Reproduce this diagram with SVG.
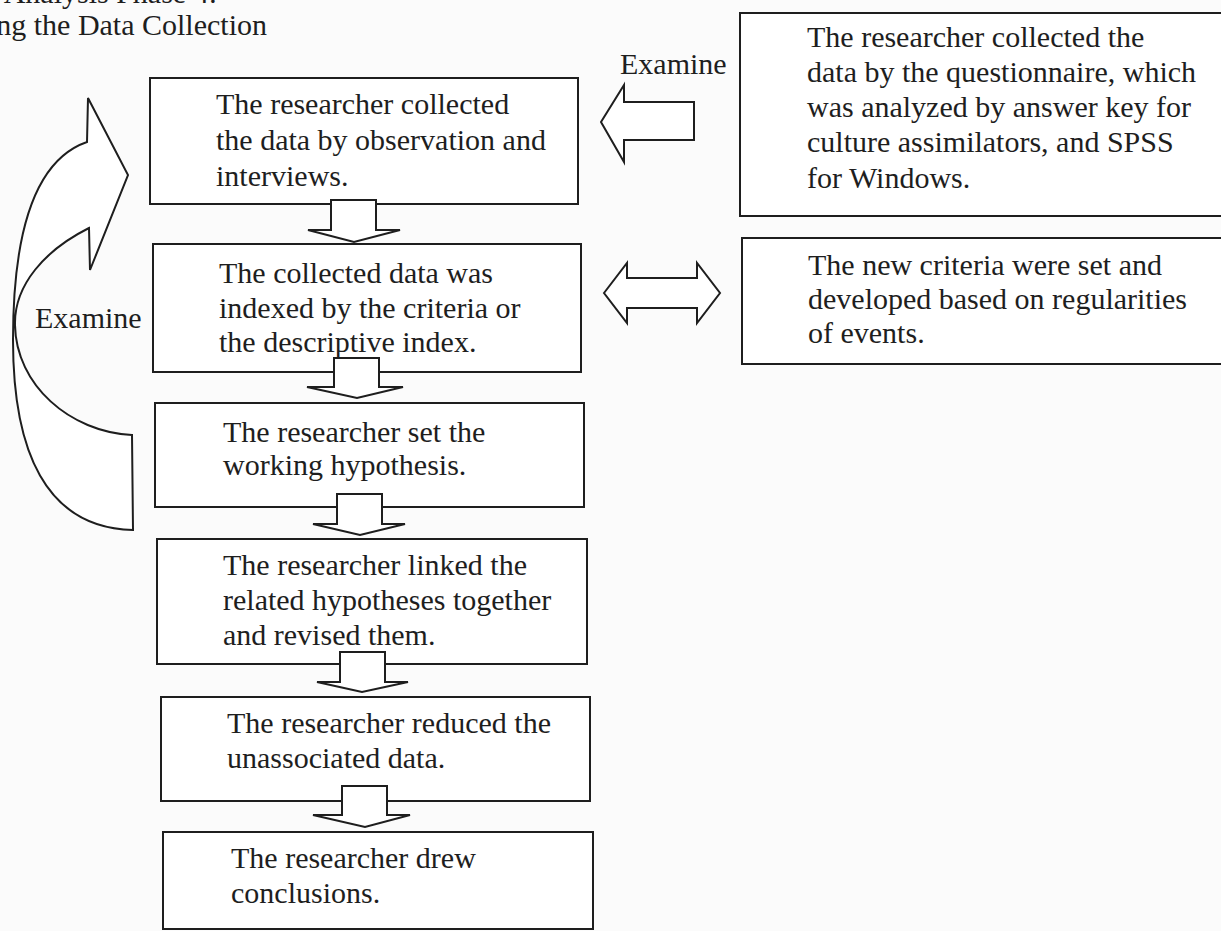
<svg xmlns="http://www.w3.org/2000/svg" width="1221" height="931" viewBox="0 0 1221 931">
<style>
.box{fill:#fff;stroke:#1e1e1e;stroke-width:2}
.t{font-family:"Liberation Serif","Times New Roman",serif;font-size:30px;fill:#1e1e1e}
.arr{fill:#fff;stroke:#1e1e1e;stroke-width:2;stroke-linejoin:miter}
</style>
<rect x="0" y="0" width="1221" height="931" fill="#fbfbfb"/>
<g id="title">
<text class="t" x="217" y="3" text-anchor="end">Analysis Phase 4:</text>
<text class="t" x="267" y="35" text-anchor="end">ng the Data Collection</text>
</g>
<g id="n1">
<rect class="box" x="150" y="78" width="428" height="126"/>
<text class="t" x="216"><tspan x="216" y="114">The researcher collected</tspan><tspan x="216" y="150">the data by observation and</tspan><tspan x="216" y="186">interviews.</tspan></text>
</g>
<g id="n2">
<rect class="box" x="153" y="244" width="428" height="128"/>
<text class="t"><tspan x="219" y="283">The collected data was</tspan><tspan x="219" y="318">indexed by the criteria or</tspan><tspan x="219" y="352">the descriptive index.</tspan></text>
</g>
<g id="n3">
<rect class="box" x="155" y="403" width="429" height="104"/>
<text class="t"><tspan x="223" y="442">The researcher set the</tspan><tspan x="223" y="475">working hypothesis.</tspan></text>
</g>
<g id="n4">
<rect class="box" x="157" y="539" width="430" height="125"/>
<text class="t"><tspan x="223" y="575">The researcher linked the</tspan><tspan x="223" y="610">related hypotheses together</tspan><tspan x="223" y="645">and revised them.</tspan></text>
</g>
<g id="n5">
<rect class="box" x="161" y="697" width="429" height="104"/>
<text class="t"><tspan x="227" y="733">The researcher reduced the</tspan><tspan x="227" y="768">unassociated data.</tspan></text>
</g>
<g id="n6">
<rect class="box" x="163" y="832" width="430" height="97"/>
<text class="t"><tspan x="231" y="868">The researcher drew</tspan><tspan x="231" y="903">conclusions.</tspan></text>
</g>
<g id="r1">
<rect class="box" x="740" y="13" width="500" height="203"/>
<text class="t"><tspan x="807" y="47">The researcher collected the</tspan><tspan x="807" y="82">data by the questionnaire, which</tspan><tspan x="807" y="117">was analyzed by answer key for</tspan><tspan x="807" y="152">culture assimilators, and SPSS</tspan><tspan x="807" y="188">for Windows.</tspan></text>
</g>
<g id="r2">
<rect class="box" x="742" y="238" width="500" height="126"/>
<text class="t"><tspan x="808" y="275">The new criteria were set and</tspan><tspan x="808" y="309">developed based on regularities</tspan><tspan x="808" y="343">of events.</tspan></text>
</g>
<g id="connectors">
<polygon class="arr" points="331,200 376,200 376,230 400,230 354,242 308,230 331,230"/>
<polygon class="arr" points="334,358 379,358 379,387 403,387 357,398 307,387 334,387"/>
<polygon class="arr" points="337,494 382,494 382,524 405,524 360,535 313,524 337,524"/>
<polygon class="arr" points="340,652 385,652 385,682 408,682 362,692 317,682 340,682"/>
<polygon class="arr" points="342,786 387,786 387,815 410,815 365,827 313,815 342,815"/>
<polygon class="arr" points="601,122 624,85 624,102 694,102 694,140 624,140 624,162"/>
<polygon class="arr" points="604,293 627,263 627,278 697,278 697,263 720,293 697,323 697,308 627,308 627,323"/>
<path class="arr" d="M133,530 C45,528 13,450 13,340 C13,230 35,160 87,142 L88,98 L128,175 L90,270 L89,228 C45,250 14,285 15,325 C16,385 70,432 132,435 Z"/>
<text class="t" x="620" y="74">Examine</text>
<text class="t" x="35" y="328">Examine</text>
</g>
</svg>
